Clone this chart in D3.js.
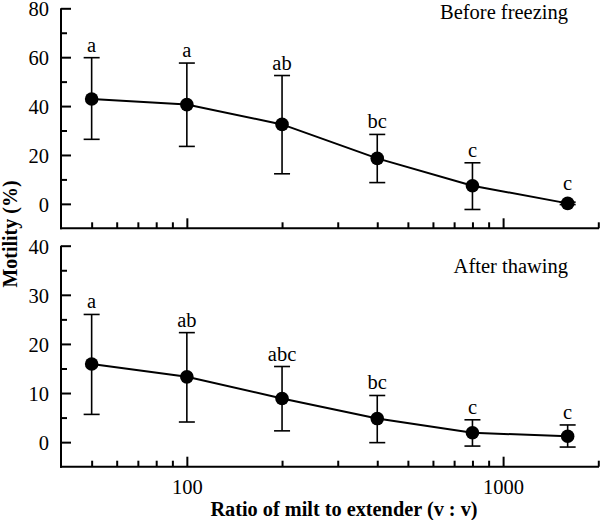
<!DOCTYPE html>
<html><head><meta charset="utf-8">
<script src="https://cdn.jsdelivr.net/npm/d3@7"></script>
<style>body{margin:0;background:#fff}svg{display:block}text{font-family:"Liberation Serif","Times New Roman",serif;fill:#000}</style>
</head><body><svg id="c" width="600" height="520"></svg>
<script>
const ratios = [50, 100, 200, 400, 800, 1600];
const beforeMean = [42.9, 40.6, 32.5, 18.6, 7.4, 0.2];
const beforeUpper = [59.8, 57.6, 52.5, 28.4, 16.8, 0.7];
const beforeLower = [26.4, 23.5, 12.3, 8.7, -2.3, -0.3];
const beforeLetters = ["a", "a", "ab", "bc", "c", "c"];
const afterMean = [15.9, 13.3, 8.9, 4.8, 1.9, 1.2];
const afterUpper = [26.0, 22.3, 15.4, 9.5, 4.55, 3.5];
const afterLower = [5.65, 4.1, 2.3, -0.1, -0.8, -1.0];
const afterLetters = ["a", "ab", "abc", "bc", "c", "c"];
const xMajorTicks = [100, 1000];
const xMinorTicks = [50, 60, 70, 80, 90, 200, 300, 400, 500, 600, 700, 800, 900, 2000];
const beforeMajor = [0, 20, 40, 60, 80];
const beforeMinor = [10, 30, 50, 70];
const afterMajor = [0, 10, 20, 30, 40];
const afterMinor = [5, 15, 25, 35];

const FS = 20.5;
const svg = d3.select("#c");
const x = d3.scaleLog().domain([40, 2000]).range([61, 598.3]);

function panel(yDomain, yRange, mean, upper, lower, letters, major, minor, title, titleY, showXLabels) {
  const y = d3.scaleLinear().domain(yDomain).range(yRange);
  const g = svg.append("g");
  const yMaj = d3.axisLeft(y).tickValues(major).tickSize(-10).tickPadding(12).tickFormat(d3.format("d"));
  const ga = g.append("g").attr("transform", "translate(61,0)").call(yMaj);
  ga.select(".domain").remove();
  ga.selectAll("line").attr("stroke", "#000").attr("stroke-width", 2);
  ga.selectAll("text").attr("font-size", FS).attr("font-family", '"Liberation Serif",serif').attr("dy", "0.36em");
  const gm = g.append("g").attr("transform", "translate(61,0)").call(d3.axisLeft(y).tickValues(minor).tickSize(-6).tickFormat(""));
  gm.select(".domain").remove();
  gm.selectAll("line").attr("stroke", "#000").attr("stroke-width", 2);
  g.append("line").attr("x1", 61).attr("x2", 61).attr("y1", yRange[1]).attr("y2", yRange[0] + 1).attr("stroke", "#000").attr("stroke-width", 2);
  const xb = yRange[0];
  const xMaj = d3.axisBottom(x).tickValues(xMajorTicks).tickSize(-10).tickPadding(13).tickFormat(showXLabels ? d3.format("d") : "");
  const gx = g.append("g").attr("transform", `translate(0,${xb})`).call(xMaj);
  gx.select(".domain").remove();
  gx.selectAll("line").attr("stroke", "#000").attr("stroke-width", 2);
  gx.selectAll("text").attr("font-size", FS).attr("font-family", '"Liberation Serif",serif');
  const gxm = g.append("g").attr("transform", `translate(0,${xb})`).call(d3.axisBottom(x).tickValues(xMinorTicks).tickSize(-6).tickFormat(""));
  gxm.select(".domain").remove();
  gxm.selectAll("line").attr("stroke", "#000").attr("stroke-width", 2);
  g.append("line").attr("x1", 60).attr("x2", 599).attr("y1", xb).attr("y2", xb).attr("stroke", "#000").attr("stroke-width", 2);

  const data = ratios.map((r, i) => ({r, m: mean[i], u: upper[i], l: lower[i], t: letters[i]}));
  const eb = g.append("g").attr("stroke", "#000").attr("stroke-width", 1.6);
  data.forEach(d => {
    eb.append("line").attr("x1", x(d.r)).attr("x2", x(d.r)).attr("y1", y(d.u)).attr("y2", y(d.l));
    eb.append("line").attr("x1", x(d.r) - 8).attr("x2", x(d.r) + 8).attr("y1", y(d.u)).attr("y2", y(d.u));
    eb.append("line").attr("x1", x(d.r) - 8).attr("x2", x(d.r) + 8).attr("y1", y(d.l)).attr("y2", y(d.l));
  });
  g.append("path").datum(data).attr("fill", "none").attr("stroke", "#000").attr("stroke-width", 2)
    .attr("d", d3.line().x(d => x(d.r)).y(d => y(d.m)));
  g.selectAll("circle.p").data(data).enter().append("circle")
    .attr("cx", d => x(d.r)).attr("cy", d => y(d.m)).attr("r", 6.8).attr("fill", "#000");
  g.selectAll("text.lt").data(data).enter().append("text")
    .attr("x", d => x(d.r)).attr("y", d => Math.min(y(d.u), y(d.m) - 7) - 6)
    .attr("text-anchor", "middle").attr("font-size", FS).text(d => d.t);
  g.append("text").attr("x", 568).attr("y", titleY).attr("text-anchor", "end").attr("font-size", FS).text(title);
}

panel([-10, 80], [228.3, 8.3], beforeMean, beforeUpper, beforeLower, beforeLetters, beforeMajor, beforeMinor, "Before freezing", 18.5, false);
panel([-5, 40], [466.7, 245.7], afterMean, afterUpper, afterLower, afterLetters, afterMajor, afterMinor, "After thawing", 273, true);

svg.append("text").attr("x", 344).attr("y", 516).attr("text-anchor", "middle").attr("font-size", 20.3).attr("font-weight", "bold")
  .text("Ratio of milt to extender (v : v)");
svg.append("text").attr("transform", "translate(17,234) rotate(-90)").attr("text-anchor", "middle").attr("font-size", 20).attr("font-weight", "bold")
  .text("Motility (%)");
</script></body></html>
